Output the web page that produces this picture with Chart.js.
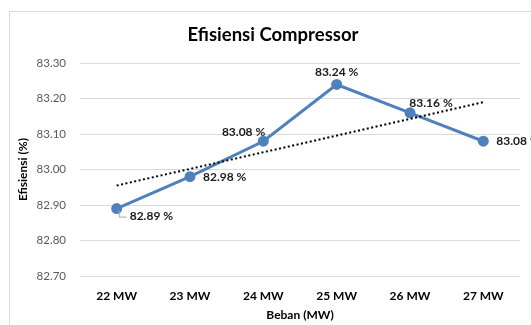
<!DOCTYPE html>
<html lang="id">
<head>
    <meta charset="UTF-8">
    <title>Efisiensi Compressor</title>
    <style>
        body {
            margin: 0;
            padding: 0;
            background: #ffffff;
        }
        #wrap {
            width: 531px;
            height: 325px;
        }
    </style>
</head>
<body>

    <div id="wrap">
        <canvas id="effChart" width="531" height="325"></canvas>
    </div>

    <script src="https://cdn.jsdelivr.net/npm/chart.js"></script>

    <script>
        // Data
        const categories = ['22 MW', '23 MW', '24 MW', '25 MW', '26 MW', '27 MW'];
        const efficiency = [82.89, 82.98, 83.08, 83.24, 83.16, 83.08];
        // Linear trendline end points (middle left empty, line spans the gap)
        const trendValues = [82.955, null, null, null, null, 83.19];
        const yTicks = [82.70, 82.80, 82.90, 83.00, 83.10, 83.20, 83.30];

        const ctx = document.getElementById('effChart').getContext('2d');

        // Light grey frame round the chart, as in the spreadsheet export
        const framePlugin = {
            id: 'frame',
            afterLayout(chart) {
                // title sits centred over the frame, a little right of the canvas centre
                const t = chart.titleBlock;
                if (t) { t.left += 13; t.right += 13; }
            },
            beforeDraw(chart) {
                const c = chart.ctx;
                c.save();
                c.fillStyle = '#ffffff';
                c.fillRect(0, 0, chart.width, chart.height);
                c.strokeStyle = '#d9d9d9';
                c.lineWidth = 1;
                c.strokeRect(9.5, 11.5, chart.width + 20, chart.height + 20);
                c.restore();
            }
        };

        // Data labels next to every point of the main series
        const labelPlugin = {
            id: 'pointLabels',
            afterDatasetsDraw(chart, args, opts) {
                const meta = chart.getDatasetMeta(opts.datasetIndex);
                const values = chart.data.datasets[opts.datasetIndex].data;
                const c = chart.ctx;
                c.save();
                c.font = 'bold 12px Lato';
                c.fillStyle = '#1a1a1a';
                c.textBaseline = 'middle';
                meta.data.forEach((pt, i) => {
                    const p = opts.placements[i];
                    c.textAlign = p.align;
                    c.fillText(values[i].toFixed(2) + ' %', pt.x + p.dx, pt.y + p.dy);
                    if (p.leader) {
                        c.strokeStyle = '#a6a6a6';
                        c.lineWidth = 1;
                        c.beginPath();
                        c.moveTo(pt.x + 2.5, pt.y + 2);
                        c.lineTo(pt.x + 2.5, pt.y + 8.5);
                        c.lineTo(pt.x + 10, pt.y + 8.5);
                        c.stroke();
                    }
                });
                c.restore();
            }
        };

        const chart = new Chart(ctx, {
            type: 'line',
            data: {
                labels: categories,
                datasets: [{
                    label: 'Linear (Efisiensi)',
                    data: trendValues,
                    spanGaps: true,
                    borderColor: '#000000',
                    borderWidth: 2,
                    borderDash: [2, 2.5],
                    borderCapStyle: 'butt',
                    pointRadius: 0,
                    fill: false,
                    tension: 0
                }, {
                    label: 'Efisiensi',
                    data: efficiency,
                    borderColor: '#4f81bd',
                    backgroundColor: '#4f81bd',
                    borderWidth: 3,
                    pointRadius: 4,
                    pointBackgroundColor: '#4f81bd',
                    pointBorderColor: '#4f81bd',
                    fill: false,
                    tension: 0
                }]
            },
            options: {
                responsive: false,
                animation: false,
                layout: {
                    padding: { left: 0, right: 11, top: 0, bottom: 0 }
                },
                plugins: {
                    legend: { display: false },
                    tooltip: { enabled: false },
                    title: {
                        display: true,
                        text: 'Efisiensi Compressor',
                        color: '#000000',
                        font: { family: 'Lato', size: 18.5, weight: 'bold', lineHeight: 1.2 },
                        padding: { top: 24, bottom: 17 }
                    },
                    pointLabels: {
                        datasetIndex: 1,
                        placements: [
                            { dx: 13, dy: 8, align: 'left', leader: true },
                            { dx: 13, dy: 0, align: 'left' },
                            { dx: 2, dy: -9, align: 'right' },
                            { dx: 0, dy: -12.5, align: 'center' },
                            { dx: 21, dy: -10, align: 'center' },
                            { dx: 13, dy: 0, align: 'left' }
                        ]
                    }
                },
                scales: {
                    x: {
                        offset: true,
                        grid: { display: false },
                        border: { display: false },
                        ticks: {
                            color: '#000000',
                            padding: 5,
                            font: { family: 'Lato', size: 12, weight: 'bold' }
                        },
                        title: {
                            display: true,
                            text: 'Beban (MW)',
                            color: '#000000',
                            font: { family: 'Lato', size: 12, weight: 'bold', lineHeight: 1.2 },
                            padding: { top: 0, bottom: 3 }
                        },
                        afterFit(scale) { scale.height = 49; }
                    },
                    y: {
                        min: 82.70,
                        max: 83.30,
                        afterBuildTicks(scale) {
                            scale.ticks = yTicks.map(v => ({ value: v }));
                        },
                        grid: {
                            color: '#d9d9d9',
                            lineWidth: 1,
                            drawTicks: false
                        },
                        border: { display: false },
                        ticks: {
                            color: '#595959',
                            padding: 14,
                            font: { family: 'Lato', size: 11.5 },
                            callback: function(value) { return Number(value).toFixed(2); }
                        },
                        title: {
                            display: true,
                            text: 'Efisiensi (%)',
                            color: '#000000',
                            font: { family: 'Lato', size: 12, weight: 'bold', lineHeight: 1.2 },
                            padding: { top: 16, bottom: 0 }
                        },
                        afterFit(scale) { scale.width = 80; }
                    }
                }
            },
            plugins: [framePlugin, labelPlugin]
        });
    </script>

</body>
</html>
